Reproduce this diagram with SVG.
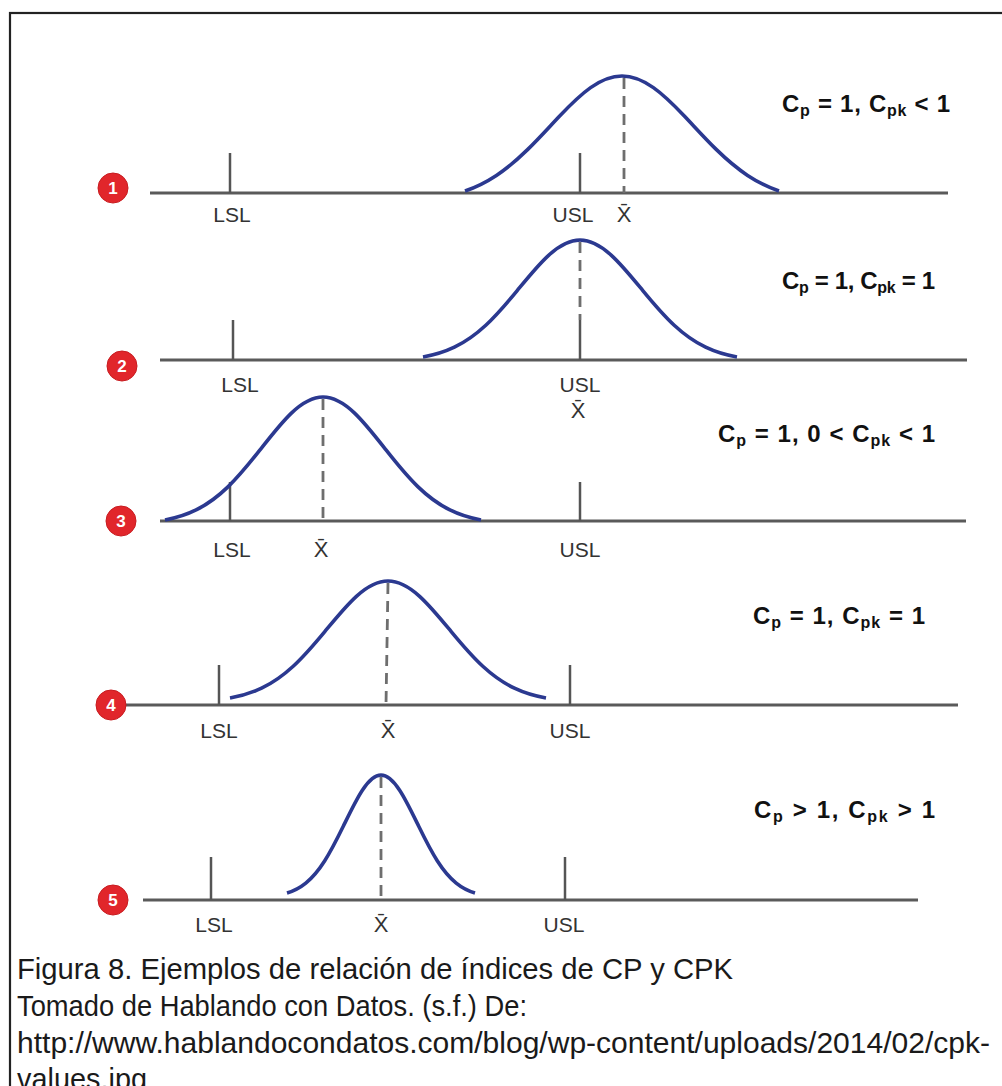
<svg xmlns="http://www.w3.org/2000/svg" xmlns:xlink="http://www.w3.org/1999/xlink" width="1002" height="1086" viewBox="0 0 1002 1086">
<style>
.axis{stroke:#5a5a5a;stroke-width:3;fill:none}
.tick{stroke:#555;stroke-width:2.5;fill:none}
.dash{stroke:#6e6e6e;stroke-width:2.8;stroke-dasharray:11 7;fill:none}
.lbl{font-family:"Liberation Sans",Arial,sans-serif;font-size:21px;fill:#333;text-anchor:middle}
.xbar{font-size:22px}
.cap{font-family:"Liberation Sans",Arial,sans-serif;font-size:24px;font-weight:bold;fill:#111}
.sub{font-size:16px}
.badge{fill:#e1262b;stroke:#c81c20;stroke-width:1}
.num{font-family:"Liberation Sans",Arial,sans-serif;font-size:17px;font-weight:bold;fill:#fff;text-anchor:middle}
.caption{font-family:"Liberation Sans",Arial,sans-serif;font-size:30px;fill:#1a1a1a}
.bell{fill:none;stroke:#2b3990;stroke-width:3.6}
</style>
<defs>
<path id="bellA" class="bell" vector-effect="non-scaling-stroke" d="M-1,0 C-0.9333,-0.0315 -0.8667,-0.0754 -0.8,-0.1356 C-0.7333,-0.1958 -0.6667,-0.2727 -0.6,-0.3617 C-0.5333,-0.4507 -0.4667,-0.5514 -0.4,-0.6476 C-0.3333,-0.7438 -0.2667,-0.8344 -0.2,-0.8987 C-0.1333,-0.963 -0.0667,-1 0,-1 C0.0667,-1 0.1333,-0.963 0.2,-0.8987 C0.2667,-0.8344 0.3333,-0.7438 0.4,-0.6476 C0.4667,-0.5514 0.5333,-0.4507 0.6,-0.3617 C0.6667,-0.2727 0.7333,-0.1958 0.8,-0.1356 C0.8667,-0.0754 0.9333,-0.0315 1,0"/>
<path id="bellB" class="bell" vector-effect="non-scaling-stroke" d="M-1,0 C-0.9333,-0.0159 -0.8667,-0.0409 -0.8,-0.0839 C-0.7333,-0.1269 -0.6667,-0.1884 -0.6,-0.2714 C-0.5333,-0.3544 -0.4667,-0.4589 -0.4,-0.5676 C-0.3333,-0.6763 -0.2667,-0.7875 -0.2,-0.8691 C-0.1333,-0.9507 -0.0667,-1 0,-1 C0.0667,-1 0.1333,-0.9507 0.2,-0.8691 C0.2667,-0.7875 0.3333,-0.6763 0.4,-0.5676 C0.4667,-0.4589 0.5333,-0.3544 0.6,-0.2714 C0.6667,-0.1884 0.7333,-0.1269 0.8,-0.0839 C0.8667,-0.0409 0.9333,-0.0159 1,0"/>
</defs>
<rect x="0" y="0" width="1002" height="1086" fill="#fff"/>
<rect x="10" y="13" width="2000" height="2000" fill="none" stroke="#222" stroke-width="2.2"/>

<g id="panel1">
<line class="axis" x1="150" y1="193" x2="948" y2="193"/>
<line class="tick" x1="230" y1="153" x2="230" y2="193"/>
<line class="tick" x1="580" y1="153" x2="580" y2="193"/>
<line class="dash" x1="624" y1="78" x2="624" y2="193"/>
<use xlink:href="#bellA" transform="translate(622,191) scale(157,115)"/>
<text class="lbl" x="232" y="222">LSL</text>
<text class="lbl" x="573" y="222">USL</text>
<text class="lbl xbar" x="624" y="222">X̄</text>
<text class="cap" x="782" y="112" textLength="168" lengthAdjust="spacing">C<tspan class="sub" dy="4">p</tspan><tspan dy="-4"> = 1, C</tspan><tspan class="sub" dy="4">pk</tspan><tspan dy="-4"> &lt; 1</tspan></text>
<g id="badge1"><circle class="badge" cx="113" cy="188" r="15"/><text class="num" x="113" y="194">1</text></g>
</g>

<g id="panel2">
<line class="axis" x1="160" y1="360" x2="967" y2="360"/>
<line class="tick" x1="233" y1="320" x2="233" y2="360"/>
<line class="tick" x1="580" y1="320" x2="580" y2="360"/>
<line class="dash" x1="580" y1="242" x2="580" y2="320"/>
<use xlink:href="#bellB" transform="translate(580,357) scale(157,117)"/>
<text class="lbl" x="240" y="392">LSL</text>
<text class="lbl" x="580" y="392">USL</text>
<text class="lbl xbar" x="578" y="418">X̄</text>
<text class="cap" x="782" y="289" textLength="153" lengthAdjust="spacing">C<tspan class="sub" dy="4">p</tspan><tspan dy="-4"> = 1, C</tspan><tspan class="sub" dy="4">pk</tspan><tspan dy="-4"> = 1</tspan></text>
<g id="badge2"><circle class="badge" cx="122" cy="366" r="15"/><text class="num" x="122" y="372">2</text></g>
</g>

<g id="panel3">
<line class="axis" x1="160" y1="521" x2="966" y2="521"/>
<line class="tick" x1="230" y1="482" x2="230" y2="521"/>
<line class="tick" x1="580" y1="482" x2="580" y2="521"/>
<line class="dash" x1="323" y1="399" x2="323" y2="521"/>
<use xlink:href="#bellB" transform="translate(323,520) scale(158,123)"/>
<text class="lbl" x="232" y="557">LSL</text>
<text class="lbl xbar" x="321" y="557">X̄</text>
<text class="lbl" x="580" y="557">USL</text>
<text class="cap" x="718" y="442" textLength="217" lengthAdjust="spacing">C<tspan class="sub" dy="4">p</tspan><tspan dy="-4"> = 1, 0 &lt; C</tspan><tspan class="sub" dy="4">pk</tspan><tspan dy="-4"> &lt; 1</tspan></text>
<g id="badge3"><circle class="badge" cx="121" cy="521" r="15"/><text class="num" x="121" y="527">3</text></g>
</g>

<g id="panel4">
<line class="axis" x1="124" y1="705" x2="958" y2="705"/>
<line class="tick" x1="219" y1="665" x2="219" y2="705"/>
<line class="tick" x1="570" y1="665" x2="570" y2="705"/>
<line class="dash" x1="388" y1="583" x2="386" y2="705"/>
<use xlink:href="#bellB" transform="translate(388,698) scale(158,117)"/>
<text class="lbl" x="219" y="738">LSL</text>
<text class="lbl xbar" x="388" y="738">X̄</text>
<text class="lbl" x="570" y="738">USL</text>
<text class="cap" x="753" y="624" textLength="172" lengthAdjust="spacing">C<tspan class="sub" dy="4">p</tspan><tspan dy="-4"> = 1, C</tspan><tspan class="sub" dy="4">pk</tspan><tspan dy="-4"> = 1</tspan></text>
<g id="badge4"><circle class="badge" cx="111" cy="705" r="15"/><text class="num" x="111" y="711">4</text></g>
</g>

<g id="panel5">
<line class="axis" x1="143" y1="900" x2="918" y2="900"/>
<line class="tick" x1="211" y1="857" x2="211" y2="900"/>
<line class="tick" x1="565" y1="857" x2="565" y2="900"/>
<line class="dash" x1="381" y1="777" x2="381" y2="900"/>
<use xlink:href="#bellB" transform="translate(381,893) scale(94,118)"/>
<text class="lbl" x="214" y="932">LSL</text>
<text class="lbl xbar" x="381" y="932">X̄</text>
<text class="lbl" x="564" y="932">USL</text>
<text class="cap" x="754" y="818" textLength="181" lengthAdjust="spacing">C<tspan class="sub" dy="4">p</tspan><tspan dy="-4"> &gt; 1, C</tspan><tspan class="sub" dy="4">pk</tspan><tspan dy="-4"> &gt; 1</tspan></text>
<g id="badge5"><circle class="badge" cx="113" cy="900" r="15"/><text class="num" x="113" y="906">5</text></g>
</g>

<g id="caption">
<text class="caption" x="17" y="979" textLength="716" lengthAdjust="spacingAndGlyphs">Figura 8. Ejemplos de relación de índices de CP y CPK</text>
<text class="caption" x="17" y="1016" textLength="510" lengthAdjust="spacingAndGlyphs">Tomado de Hablando con Datos. (s.f.) De:</text>
<text class="caption" x="17" y="1053" textLength="973" lengthAdjust="spacingAndGlyphs">http://www.hablandocondatos.com/blog/wp-content/uploads/2014/02/cpk-</text>
<text class="caption" x="17" y="1089" textLength="130" lengthAdjust="spacingAndGlyphs">values.jpg</text>
</g>
</svg>
